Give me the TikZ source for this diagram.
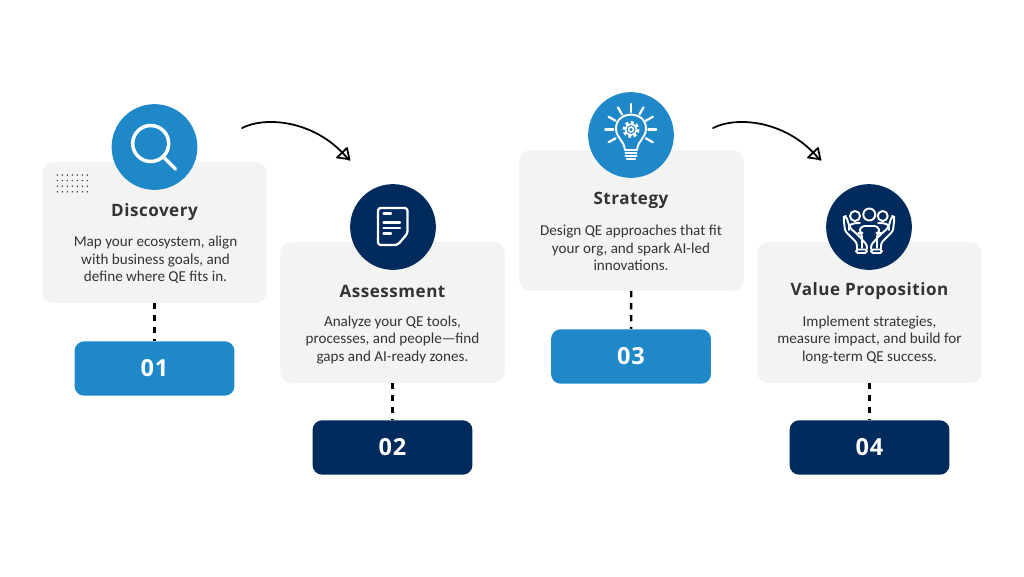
\documentclass[tikz,border=0pt]{standalone}
\usepackage{fontspec}
\usetikzlibrary{calc}
\setmainfont{Carlito}
\newfontfamily\headfont[LetterSpace=3]{Open Sans}
\definecolor{skyblue}{HTML}{1E88C9}
\definecolor{navyblue}{HTML}{002B5C}
\definecolor{cardgray}{HTML}{F3F3F2}
\definecolor{inkgray}{HTML}{333333}
\tikzset{
  card/.style={fill=cardgray, rounded corners=6pt, minimum width=127.6pt, minimum height=80pt, inner sep=0pt},
  badge/.style={rounded corners=5.5pt, minimum width=91pt, minimum height=31pt, inner sep=0pt, text=white, font=\headfont\bfseries\fontsize{13.4}{15}\selectfont},
  disc/.style={circle, minimum size=48.8pt, inner sep=0pt},
  title/.style={text=inkgray, font=\headfont\bfseries\fontsize{9.7}{12}\selectfont},
  body/.style={text=inkgray, align=center, inner sep=0pt, font=\fontsize{8.6}{9.95}\selectfont},
  link/.style={line width=1.4pt, dash pattern=on 3.6pt off 3.2pt},
  swoop/.style={line width=1pt, line cap=round, line join=round},
  icon/.style={white, line width=2pt, line cap=round, line join=round},
  thin icon/.style={white, line width=1.1pt, line cap=round, line join=round},
}
\begin{document}
\begin{tikzpicture}[x=.02cm, y=-.02cm]
\useasboundingbox (0,0) rectangle (1024,576);

% cards
\node[card] (card1) at (154.5,232.5) {};
\node[card] (card2) at (392.5,312.5) {};
\node[card] (card3) at (631.5,220.5) {};
\node[card] (card4) at (869.5,312.5) {};

% number boxes
\node[badge, fill=skyblue] (badge1) at (154.5,368.5) {01};
\node[badge, fill=navyblue] (badge2) at (392.5,447.5) {02};
\node[badge, fill=skyblue] (badge3) at (631,356.5) {03};
\node[badge, fill=navyblue] (badge4) at (869.5,447.5) {04};

\draw[link] (card1) -- (badge1);
\draw[link] (card2) -- (badge2);
\draw[link] (card3) -- (badge3);
\draw[link] (card4) -- (badge4);

% circles
\node[disc, fill=skyblue] (disc1) at (154.5,147) {};
\node[disc, fill=navyblue] (disc2) at (393,227) {};
\node[disc, fill=skyblue] (disc3) at (631,135) {};
\node[disc, fill=navyblue] (disc4) at (869,227) {};

% texts
\node[title] (title1) at (154.5,212) {Discovery};
\node[title] (title2) at (392.5,291.5) {Assessment};
\node[title] (title3) at (631,200) {Strategy};
\node[title] (title4) at (869.5,291.5) {Value Proposition};

\node[body] (body1) at (155.5,260) {Map your ecosystem, align\\with business goals, and\\define where QE fits in.};
\node[body] (body2) at (392.5,340) {Analyze your QE tools,\\processes, and people—find\\gaps and AI-ready zones.};
\node[body] (body3) at (631,248) {Design QE approaches that fit\\your org, and spark AI-led\\innovations.};
\node[body] (body4) at (869.5,340) {Implement strategies,\\measure impact, and build for\\long-term QE success.};

% dots
\foreach \i in {0,...,6}
  \foreach \j in {0,...,3}
    \fill[black!80] (57.3+5*\i,175+5.6*\j) circle (.8);

% arrows
\coordinate (from1) at (242,128);
\coordinate (to1) at (348,159);
\coordinate (from2) at (713,128);
\coordinate (to2) at (819,159);
\draw[swoop] (from1) .. controls (268,115) and (318,122) .. (to1);
\draw[swoop] (to1) -- (337,157.5) -- (347,148) -- (349.5,160) -- cycle;
\draw[swoop] (from2) .. controls (739,115) and (789,122) .. (to2);
\draw[swoop] (to2) -- (808,157.5) -- (818,148) -- (820.5,160) -- cycle;

% magnifier
\draw[icon] (150.7,143.5) circle (18);
\draw[icon] (163.5,157) -- (175.5,169);

% document
\draw[thin icon, line width=1.3pt, rounded corners=1.5pt] (378,208) -- (407.5,208) -- (407.5,233.5) -- (397.5,245) -- (378,245) -- cycle;
\draw[thin icon, line width=1.3pt] (383.5,213.5) -- (391,213.5);
\draw[thin icon, line width=1.3pt] (383.5,222.5) -- (400,222.5);
\draw[thin icon, line width=1.3pt] (383.5,228) -- (400,228);
\draw[thin icon, line width=1.3pt] (383.5,233.5) -- (391,233.5);

% bulb
\foreach \a/\r in {-90/16,-60/16,-120/16,-30/16,-150/16,0/16,180/16,30/16,150/16}
  \draw[thin icon, line width=1.3pt] ($(630.7,129.5)+(\a:\r+1.5)$) -- ($(630.7,129.5)+(\a:\r+9.5)$);
\draw[thin icon] (625,150) .. controls (624,140) and (616,138) .. (616,128.5)
  .. controls (616,110) and (646,110) .. (646,128.5)
  .. controls (646,138) and (638,140) .. (637,150) -- cycle;
\draw[thin icon, line width=.9pt] (631,129.5) circle (2.5);
\draw[thin icon, line cap=butt, line width=1.6pt, dash pattern=on 1.6pt off 1.5pt] (631,129.5) circle (7);
\draw[thin icon, line width=.9pt] (631,129.5) circle (5.5);
\draw[thin icon, line width=1.2pt] (625.5,153) -- (636.5,153);
\draw[thin icon, line width=1.2pt] (625.5,156) -- (636.5,156);
\draw[thin icon, line width=1.2pt] (627,159) -- (635,159);

% people and hands
\draw[thin icon] (869.3,214.5) circle (6);
\draw[thin icon] (855,216) circle (5);
\draw[thin icon] (882.7,216) circle (5);
\draw[thin icon, rounded corners=2pt] (862,248) -- (862,233) -- (859,233) -- (861,226) -- (878,226) -- (880,233) -- (877,233) -- (877,248);
\draw[thin icon] (849,230) .. controls (848,224) and (852,223) .. (860,223);
\draw[thin icon] (889,230) .. controls (890,224) and (886,223) .. (878,223);
\draw[thin icon, rounded corners=1.5pt] (857,249) -- (857,243) -- (845,231) -- (843.5,217) -- (846,216) -- (850,228) -- (858,235) -- (867,245) -- (867,249);
\draw[thin icon, rounded corners=1.5pt] (881,249) -- (881,243) -- (893,231) -- (894.5,217) -- (892,216) -- (888,228) -- (880,235) -- (871,245) -- (871,249);
\draw[thin icon, rounded corners=1pt] (856,249.5) rectangle (867,253);
\draw[thin icon, rounded corners=1pt] (871,249.5) rectangle (882,253);

\end{tikzpicture}
\end{document}
